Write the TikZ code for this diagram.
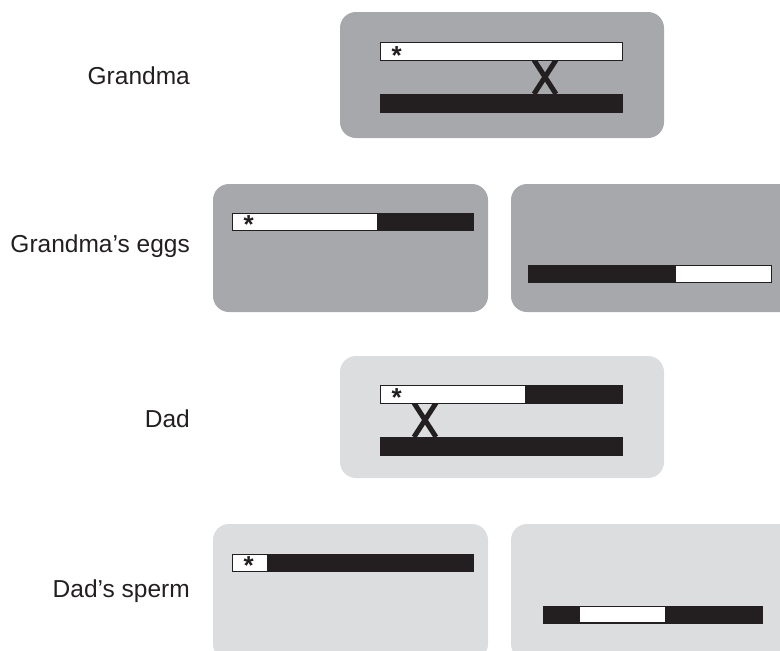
\documentclass[tikz,border=0pt]{standalone}
\usepackage{fontspec}
\setmainfont{Liberation Sans}
\definecolor{darkbox}{HTML}{A7A8AB}
\definecolor{lightbox}{HTML}{DCDDDF}
\definecolor{ink}{HTML}{231F20}
\tikzset{
  x=1pt, y=-1pt,
  panel/.style={rounded corners=16pt, draw=none},
  darkpanel/.style={panel, fill=darkbox},
  lightpanel/.style={panel, fill=lightbox},
  whitebar/.style={fill=white, draw=ink, line width=1pt},
  blackbar/.style={fill=ink, draw=ink, line width=1pt},
  cross/.style={draw=ink, line width=5pt},
  label/.style={font=\fontsize{24.5}{28}\selectfont, text=ink, inner sep=0pt, anchor=base east},
  star/.style={font=\fontsize{26}{26}\selectfont\bfseries, text=ink, inner sep=0pt, anchor=base}
}
\begin{document}
\begin{tikzpicture}
\useasboundingbox (0,0) rectangle (780,651);
\clip (0,0) rectangle (780,651);
% labels
\node[label] (lgm) at (190,84) {Grandma};
\node[label] (leggs) at (190,252) {Grandma’s eggs};
\node[label] (ldad) at (190,427) {Dad};
\node[label] (lsperm) at (190,597) {Dad’s sperm};
% Grandma
\draw[darkpanel] (340,12) rectangle (664,138);
\draw[cross] (534,60) -- (556,94);
\draw[cross] (556,60) -- (534,94);
\draw[whitebar] (380,42) rectangle (622,60);
\draw[blackbar] (380,94) rectangle (622,112);
\node[star] (s1) at (396.7,64.5) {*};
% Grandma's eggs
\draw[darkpanel] (213,184) rectangle (488,312);
\draw[whitebar] (232,213) rectangle (473,230);
\draw[blackbar] (377,213) rectangle (473,230);
\node[star] (s2) at (248.7,233.5) {*};
\draw[darkpanel] (511,184) rectangle (800,312);
\draw[whitebar] (528,265) rectangle (771,282);
\draw[blackbar] (528,265) rectangle (675,282);
% Dad
\draw[lightpanel] (340,356) rectangle (664,478);
\draw[cross] (414,403) -- (436,437);
\draw[cross] (436,403) -- (414,437);
\draw[whitebar] (380,385) rectangle (622,403);
\draw[blackbar] (525,385) rectangle (622,403);
\draw[blackbar] (380,437) rectangle (622,455);
\node[star] (s3) at (396.7,406.5) {*};
% Dad's sperm
\draw[lightpanel] (213,524) rectangle (488,660);
\draw[whitebar] (232,554) rectangle (473,571);
\draw[blackbar] (267,554) rectangle (473,571);
\node[star] (s4) at (248.7,574.5) {*};
\draw[lightpanel] (511,524) rectangle (800,660);
\draw[blackbar] (543,606) rectangle (762,623);
\draw[fill=white, draw=none] (580,607) rectangle (665,622);
\end{tikzpicture}
\end{document}
